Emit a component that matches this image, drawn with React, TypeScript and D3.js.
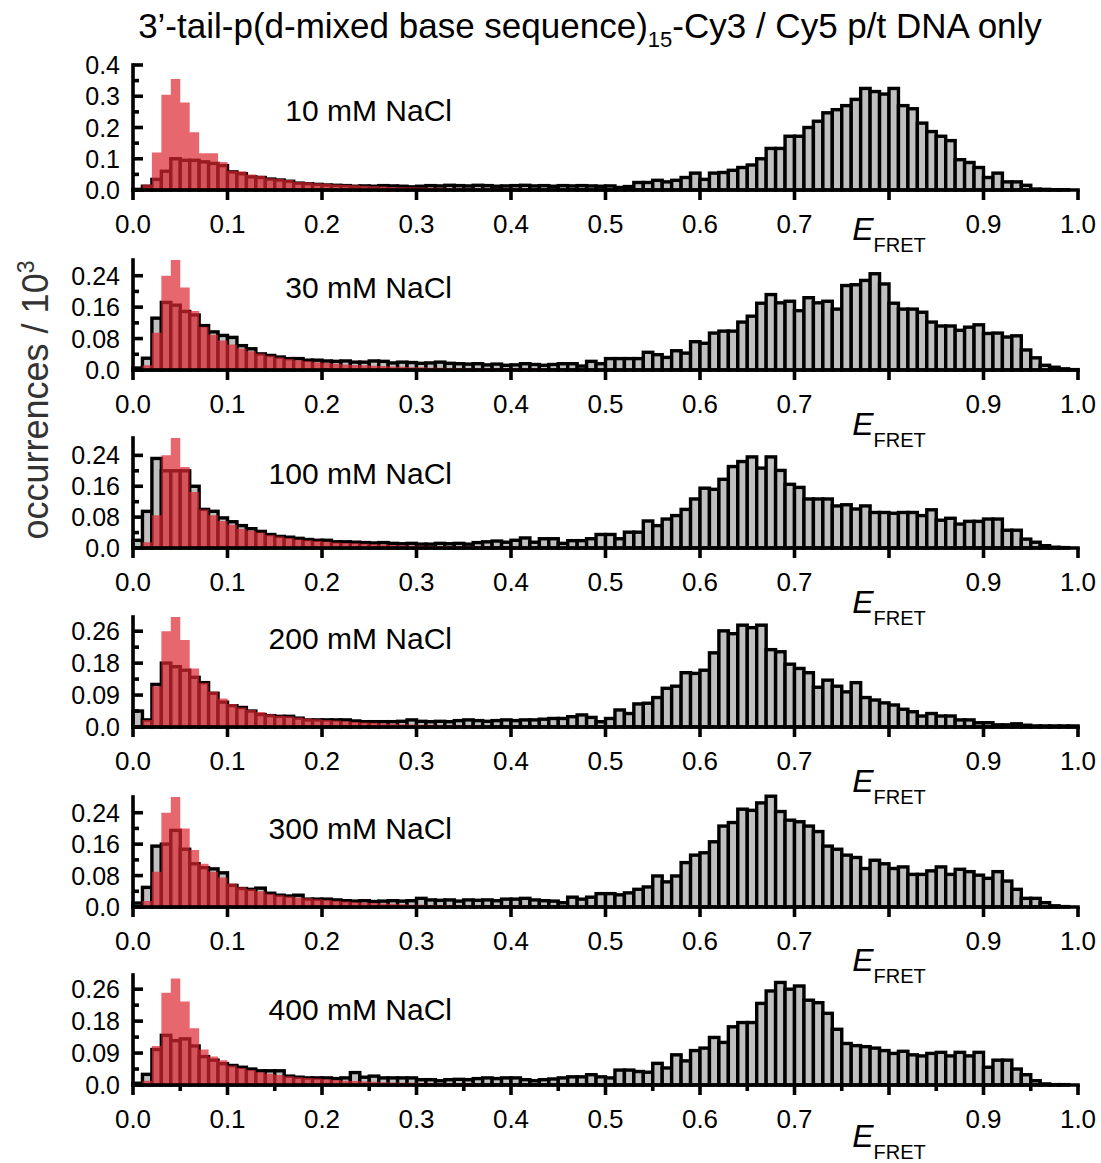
import React from 'react';
import * as d3 from 'd3';

// ---------------- DATA ----------------
const BIN_WIDTH = 0.01;
const TITLE_MAIN = '3\u2019-tail-p(d-mixed base sequence)';
const TITLE_SUB = '15';
const TITLE_END = '-Cy3 / Cy5 p/t DNA only';
const Y_TITLE = 'occurrences / 10';
const Y_TITLE_SUP = '3';
const PANEL_LABELS = ['10 mM NaCl', '30 mM NaCl', '100 mM NaCl', '200 mM NaCl', '300 mM NaCl', '400 mM NaCl'];

const X_TICKS = [0, 0.1, 0.2, 0.3, 0.4, 0.5, 0.6, 0.7, 0.8, 0.9, 1.0];
const X_TICK_LABELS = ['0.0', '0.1', '0.2', '0.3', '0.4', '0.5', '0.6', '0.7', '', '0.9', '1.0'];
const X_MINOR = [0.05, 0.15, 0.25, 0.35, 0.45, 0.55, 0.65, 0.75, 0.85, 0.95];

const Y_TICKS_A = [0, 0.1, 0.2, 0.3, 0.4];
const Y_LABELS_A = ['0.0', '0.1', '0.2', '0.3', '0.4'];
const Y_MINOR_A = [0.05, 0.15, 0.25, 0.35];
const Y_TICKS_B = [0, 0.08, 0.16, 0.24];
const Y_LABELS_B = ['0.0', '0.08', '0.16', '0.24'];
const Y_MINOR_B = [0.04, 0.12, 0.2];
const Y_TICKS_C = [0, 0.09, 0.18, 0.27];
const Y_LABELS_C = ['0.0', '0.09', '0.18', '0.26'];
const Y_MINOR_C = [0.045, 0.135, 0.225];

// occurrences / 10^3, one value per 0.01 bin starting at 0.00
const GRAY_10 = [0.002, 0.012, 0.034, 0.06, 0.1, 0.095, 0.095, 0.09, 0.085, 0.078,
  0.058, 0.052, 0.042, 0.04, 0.035, 0.032, 0.028, 0.022, 0.02, 0.018,
  0.016, 0.015, 0.014, 0.012, 0.013, 0.012, 0.014, 0.013, 0.012, 0.01,
  0.012, 0.014, 0.013, 0.015, 0.014, 0.013, 0.015, 0.014, 0.012, 0.013,
  0.014, 0.015, 0.013, 0.014, 0.012, 0.014, 0.013, 0.014, 0.013, 0.012,
  0.013, 0.008, 0.011, 0.024, 0.024, 0.031, 0.026, 0.031, 0.04, 0.054,
  0.034, 0.054, 0.056, 0.063, 0.072, 0.08, 0.1, 0.133, 0.133, 0.172,
  0.172, 0.2, 0.22, 0.247, 0.257, 0.27, 0.29, 0.325, 0.315, 0.307,
  0.325, 0.27, 0.26, 0.214, 0.187, 0.172, 0.158, 0.097, 0.088, 0.072,
  0.04, 0.054, 0.026, 0.026, 0.015, 0.003, 0.002, 0.001, 0.001, 0];
const RED_10 = [0, 0.018, 0.12, 0.305, 0.355, 0.28, 0.185, 0.118, 0.118, 0.09,
  0.062, 0.06, 0.05, 0.046, 0.038, 0.035, 0.032, 0.026, 0.025, 0.022,
  0.02, 0.018, 0.017, 0.015, 0.014, 0.012, 0.011, 0.01, 0.009, 0.009,
  0.008, 0.007, 0.007, 0.006, 0.006, 0.005, 0.005, 0.005, 0.004, 0.004,
  0.004, 0.004, 0.003, 0.003, 0.003, 0.003, 0.003, 0.003, 0.003, 0.002,
  0.002, 0.002, 0.002, 0.002, 0.002, 0.002, 0.002, 0.001, 0.001, 0.001];

const GRAY_30 = [0.005, 0.03, 0.132, 0.172, 0.165, 0.149, 0.14, 0.113, 0.097, 0.088,
  0.083, 0.062, 0.054, 0.041, 0.037, 0.033, 0.029, 0.029, 0.025, 0.025,
  0.023, 0.022, 0.023, 0.02, 0.02, 0.023, 0.022, 0.018, 0.02, 0.019,
  0.017, 0.018, 0.02, 0.017, 0.016, 0.015, 0.016, 0.013, 0.015, 0.012,
  0.013, 0.016, 0.014, 0.012, 0.014, 0.016, 0.016, 0.01, 0.022, 0.016,
  0.029, 0.029, 0.029, 0.029, 0.045, 0.039, 0.032, 0.049, 0.043, 0.072,
  0.068, 0.094, 0.099, 0.099, 0.122, 0.137, 0.17, 0.192, 0.171, 0.175,
  0.151, 0.184, 0.171, 0.175, 0.155, 0.215, 0.217, 0.228, 0.245, 0.219,
  0.17, 0.155, 0.155, 0.147, 0.122, 0.112, 0.112, 0.101, 0.109, 0.115,
  0.093, 0.094, 0.084, 0.087, 0.051, 0.031, 0.012, 0.007, 0.003, 0.001];
const RED_30 = [0, 0.012, 0.095, 0.24, 0.28, 0.21, 0.15, 0.11, 0.09, 0.075,
  0.065, 0.055, 0.048, 0.042, 0.036, 0.032, 0.028, 0.025, 0.022, 0.02,
  0.018, 0.016, 0.014, 0.013, 0.012, 0.011, 0.01, 0.009, 0.008, 0.007,
  0.007, 0.006, 0.006, 0.005, 0.005, 0.004, 0.004, 0.004, 0.003, 0.003,
  0.003, 0.003, 0.003, 0.003, 0.002, 0.002, 0.002, 0.002, 0.002, 0.002,
  0.002, 0.002, 0.002, 0.001, 0.001, 0.001, 0.001, 0.001, 0.001, 0.001];

const GRAY_100 = [0.02, 0.095, 0.232, 0.2, 0.2, 0.2, 0.16, 0.1, 0.095, 0.078,
  0.068, 0.058, 0.05, 0.043, 0.035, 0.03, 0.028, 0.025, 0.022, 0.02,
  0.02, 0.016, 0.016, 0.015, 0.014, 0.013, 0.014, 0.012, 0.011, 0.012,
  0.01, 0.01, 0.012, 0.011, 0.012, 0.01, 0.014, 0.016, 0.018, 0.015,
  0.02, 0.026, 0.015, 0.024, 0.024, 0.012, 0.019, 0.019, 0.024, 0.035,
  0.035, 0.024, 0.041, 0.041, 0.07, 0.058, 0.075, 0.084, 0.1, 0.127,
  0.155, 0.152, 0.178, 0.211, 0.224, 0.236, 0.207, 0.236, 0.201, 0.165,
  0.157, 0.127, 0.127, 0.127, 0.109, 0.112, 0.101, 0.109, 0.092, 0.092,
  0.09, 0.092, 0.092, 0.084, 0.099, 0.072, 0.077, 0.062, 0.069, 0.069,
  0.075, 0.075, 0.046, 0.046, 0.023, 0.015, 0.006, 0.002, 0.001, 0];
const RED_100 = [0, 0.015, 0.085, 0.24, 0.285, 0.21, 0.145, 0.1, 0.085, 0.07,
  0.06, 0.05, 0.045, 0.04, 0.034, 0.03, 0.026, 0.022, 0.02, 0.018,
  0.016, 0.014, 0.013, 0.012, 0.011, 0.01, 0.009, 0.008, 0.007, 0.006,
  0.006, 0.005, 0.005, 0.005, 0.004, 0.004, 0.004, 0.003, 0.003, 0.003,
  0.003, 0.003, 0.002, 0.002, 0.002, 0.002, 0.002, 0.002, 0.002, 0.002,
  0.002, 0.002, 0.001, 0.001, 0.001, 0.001, 0.001, 0.001, 0.001, 0.001];

const GRAY_200 = [0.045, 0.02, 0.12, 0.18, 0.17, 0.16, 0.14, 0.125, 0.095, 0.07,
  0.06, 0.055, 0.045, 0.035, 0.032, 0.03, 0.03, 0.025, 0.02, 0.02,
  0.02, 0.02, 0.02, 0.017, 0.015, 0.015, 0.015, 0.015, 0.016, 0.02,
  0.016, 0.015, 0.016, 0.015, 0.018, 0.02, 0.018, 0.016, 0.018, 0.02,
  0.018, 0.02, 0.02, 0.022, 0.024, 0.024, 0.029, 0.034, 0.027, 0.015,
  0.024, 0.048, 0.038, 0.065, 0.067, 0.083, 0.109, 0.115, 0.153, 0.151,
  0.16, 0.209, 0.271, 0.263, 0.287, 0.28, 0.287, 0.218, 0.212, 0.177,
  0.165, 0.153, 0.112, 0.132, 0.115, 0.099, 0.125, 0.083, 0.076, 0.068,
  0.062, 0.05, 0.043, 0.031, 0.038, 0.031, 0.031, 0.02, 0.02, 0.012,
  0.012, 0.006, 0.006, 0.009, 0.005, 0.003, 0.003, 0.003, 0.003, 0.003];
const RED_200 = [0, 0.02, 0.115, 0.27, 0.31, 0.245, 0.165, 0.125, 0.1, 0.08,
  0.065, 0.055, 0.048, 0.042, 0.036, 0.032, 0.03, 0.027, 0.024, 0.022,
  0.02, 0.018, 0.016, 0.014, 0.013, 0.012, 0.01, 0.009, 0.008, 0.007,
  0.006, 0.006, 0.005, 0.005, 0.004, 0.004, 0.004, 0.003, 0.003, 0.003,
  0.003, 0.003, 0.002, 0.002, 0.002, 0.002, 0.002, 0.002, 0.002, 0.002,
  0.002, 0.002, 0.001, 0.001, 0.001, 0.001, 0.001, 0.001, 0.001, 0.001];

const GRAY_300 = [0.01, 0.05, 0.155, 0.16, 0.195, 0.147, 0.11, 0.1, 0.097, 0.087,
  0.055, 0.047, 0.045, 0.048, 0.035, 0.03, 0.028, 0.03, 0.02, 0.02,
  0.02, 0.018, 0.016, 0.015, 0.016, 0.014, 0.015, 0.016, 0.015, 0.016,
  0.022, 0.018, 0.017, 0.018, 0.015, 0.018, 0.017, 0.018, 0.016, 0.02,
  0.02, 0.022, 0.018, 0.016, 0.015, 0.011, 0.025, 0.02, 0.025, 0.034,
  0.034, 0.031, 0.036, 0.045, 0.051, 0.079, 0.064, 0.079, 0.113, 0.132,
  0.138, 0.166, 0.206, 0.215, 0.249, 0.246, 0.265, 0.282, 0.243, 0.221,
  0.217, 0.206, 0.192, 0.155, 0.147, 0.132, 0.126, 0.098, 0.119, 0.11,
  0.098, 0.102, 0.083, 0.083, 0.092, 0.102, 0.083, 0.096, 0.09, 0.081,
  0.073, 0.09, 0.066, 0.045, 0.022, 0.022, 0.011, 0.003, 0.001, 0];
const RED_300 = [0, 0.015, 0.09, 0.24, 0.28, 0.2, 0.145, 0.11, 0.09, 0.075,
  0.06, 0.05, 0.045, 0.04, 0.034, 0.03, 0.027, 0.024, 0.022, 0.02,
  0.018, 0.016, 0.014, 0.012, 0.011, 0.01, 0.009, 0.008, 0.007, 0.006,
  0.006, 0.005, 0.005, 0.005, 0.004, 0.004, 0.004, 0.003, 0.003, 0.003,
  0.003, 0.003, 0.002, 0.002, 0.002, 0.002, 0.002, 0.002, 0.002, 0.002,
  0.002, 0.002, 0.001, 0.001, 0.001, 0.001, 0.001, 0.001, 0.001, 0.001];

const GRAY_400 = [0.005, 0.03, 0.1, 0.14, 0.125, 0.13, 0.11, 0.08, 0.07, 0.06,
  0.055, 0.05, 0.045, 0.04, 0.04, 0.04, 0.025, 0.022, 0.02, 0.02,
  0.02, 0.018, 0.02, 0.035, 0.022, 0.025, 0.02, 0.02, 0.02, 0.02,
  0.015, 0.015, 0.012, 0.015, 0.016, 0.015, 0.018, 0.02, 0.018, 0.02,
  0.02, 0.015, 0.012, 0.015, 0.017, 0.02, 0.023, 0.023, 0.029, 0.023,
  0.02, 0.042, 0.042, 0.038, 0.036, 0.061, 0.048, 0.085, 0.068, 0.097,
  0.104, 0.134, 0.12, 0.164, 0.176, 0.176, 0.23, 0.265, 0.289, 0.27,
  0.279, 0.239, 0.232, 0.202, 0.157, 0.117, 0.111, 0.108, 0.104, 0.097,
  0.089, 0.095, 0.085, 0.082, 0.089, 0.092, 0.082, 0.092, 0.082, 0.092,
  0.05, 0.07, 0.07, 0.045, 0.029, 0.012, 0.003, 0.001, 0.001, 0];
const RED_400 = [0, 0.012, 0.11, 0.26, 0.3, 0.235, 0.16, 0.1, 0.08, 0.07,
  0.055, 0.048, 0.042, 0.036, 0.032, 0.028, 0.025, 0.022, 0.02, 0.018,
  0.016, 0.014, 0.012, 0.011, 0.01, 0.009, 0.008, 0.007, 0.006, 0.006,
  0.005, 0.005, 0.005, 0.004, 0.004, 0.004, 0.003, 0.003, 0.003, 0.003,
  0.003, 0.002, 0.002, 0.002, 0.002, 0.002, 0.002, 0.002, 0.002, 0.002,
  0.002, 0.001, 0.001, 0.001, 0.001, 0.001, 0.001, 0.001, 0.001, 0.001];

// ---------------- LAYOUT / STYLE ----------------
const W = 1101;
const H = 1163;
const FONT = '"Liberation Sans", Arial, Helvetica, sans-serif';
const GRAY_FILL = '#c0c0c0';
const RED_FILL = 'rgb(221,39,49)';
const RED_OPACITY = 0.7;
const BAR_STROKE = 3.4;
const AXIS_STROKE = 3.6;

const PANELS = [
  { label: PANEL_LABELS[0], gray: GRAY_10, red: RED_10, yMax: 0.4, ticks: Y_TICKS_A, tickLabels: Y_LABELS_A, minor: Y_MINOR_A },
  { label: PANEL_LABELS[1], gray: GRAY_30, red: RED_30, yMax: 0.28, ticks: Y_TICKS_B, tickLabels: Y_LABELS_B, minor: Y_MINOR_B },
  { label: PANEL_LABELS[2], gray: GRAY_100, red: RED_100, yMax: 0.285, ticks: Y_TICKS_B, tickLabels: Y_LABELS_B, minor: Y_MINOR_B },
  { label: PANEL_LABELS[3], gray: GRAY_200, red: RED_200, yMax: 0.31, ticks: Y_TICKS_C, tickLabels: Y_LABELS_C, minor: Y_MINOR_C },
  { label: PANEL_LABELS[4], gray: GRAY_300, red: RED_300, yMax: 0.28, ticks: Y_TICKS_B, tickLabels: Y_LABELS_B, minor: Y_MINOR_B },
  { label: PANEL_LABELS[5], gray: GRAY_400, red: RED_400, yMax: 0.31, ticks: Y_TICKS_C, tickLabels: Y_LABELS_C, minor: Y_MINOR_C },
];

const LAYOUT = [
  { base: 190, h: 125, labelY: 121, eDy: 50 },
  { base: 370, h: 110, labelY: 298, eDy: 65 },
  { base: 548, h: 110, labelY: 484, eDy: 65 },
  { base: 727, h: 110, labelY: 649, eDy: 65 },
  { base: 907, h: 110, labelY: 839, eDy: 64 },
  { base: 1085, h: 110, labelY: 1020, eDy: 62 },
];

const X_LEFT = 133;
const X_RIGHT = 1078;
const LABEL_RIGHT = 452;

const x = d3.scaleLinear().domain([0, 1]).range([X_LEFT, X_RIGHT]);

function Panel({ panel, layout, last }: any) {
  const y = d3.scaleLinear().domain([0, panel.yMax]).range([layout.base, layout.base - layout.h]);
  const bw = x(BIN_WIDTH) - x(0);
  const redPts = panel.red.map((v: number, i: number) => [i * BIN_WIDTH, v]);
  redPts.push([panel.red.length * BIN_WIDTH, 0]);
  const area = d3
    .area<number[]>()
    .x((d) => x(d[0]))
    .y0(y(0))
    .y1((d) => y(d[1]))
    .curve(d3.curveStepAfter);
  const majorLen = 10;
  const minorLen = 6;
  return (
    <g>
      {panel.gray.map((v: number, i: number) => (
        <rect
          key={i}
          x={x(i * BIN_WIDTH)}
          y={y(v)}
          width={bw}
          height={Math.max(0, y(0) - y(v))}
          fill={GRAY_FILL}
          stroke="#000"
          strokeWidth={BAR_STROKE}
        />
      ))}
      <path d={area(redPts) || ''} fill={RED_FILL} fillOpacity={RED_OPACITY} />
      {/* x axis */}
      <line x1={x(0)} x2={x(1)} y1={y(0)} y2={y(0)} stroke="#000" strokeWidth={AXIS_STROKE} strokeLinecap="square" />
      {X_TICKS.map((t, i) => (
        <g key={'xt' + i}>
          <line x1={x(t)} x2={x(t)} y1={y(0)} y2={y(0) + majorLen} stroke="#000" strokeWidth={AXIS_STROKE} />
          {X_TICK_LABELS[i] && (
            <text x={x(t)} y={y(0) + 43} textAnchor="middle" fontSize={26} fontFamily={FONT} fill="#000">
              {X_TICK_LABELS[i]}
            </text>
          )}
        </g>
      ))}
      {last &&
        X_MINOR.map((t, i) => (
          <line key={'xm' + i} x1={x(t)} x2={x(t)} y1={y(0)} y2={y(0) + minorLen} stroke="#000" strokeWidth={AXIS_STROKE} />
        ))}
      {/* y axis */}
      <line x1={x(0)} x2={x(0)} y1={y(0)} y2={y(panel.yMax)} stroke="#000" strokeWidth={AXIS_STROKE} strokeLinecap="square" />
      {panel.ticks.map((t: number, i: number) => (
        <g key={'yt' + i}>
          <line x1={x(0)} x2={x(0) + majorLen} y1={y(t)} y2={y(t)} stroke="#000" strokeWidth={AXIS_STROKE} />
          <text x={x(0) - 13} y={y(t)} dy="0.36em" textAnchor="end" fontSize={25} fontFamily={FONT} fill="#000">
            {panel.tickLabels[i]}
          </text>
        </g>
      ))}
      {panel.minor.map((t: number, i: number) => (
        <line key={'ym' + i} x1={x(0)} x2={x(0) + minorLen} y1={y(t)} y2={y(t)} stroke="#000" strokeWidth={AXIS_STROKE} />
      ))}
      {/* panel label */}
      <text x={LABEL_RIGHT} y={layout.labelY} textAnchor="end" fontSize={30} fontFamily={FONT} fill="#000">
        {panel.label}
      </text>
      {/* E_FRET */}
      <text x={x(0.8)} y={y(0) + layout.eDy} textAnchor="middle" fontFamily={FONT} fill="#000">
        <tspan fontSize={32} fontStyle="italic">E</tspan>
        <tspan fontSize={20} dy={12}>FRET</tspan>
      </text>
    </g>
  );
}

export default function App() {
  return (
    <svg
      width={W}
      height={H}
      style={{ position: 'absolute', left: 0, top: 0, background: '#fff' }}
    >
      <rect x={0} y={0} width={W} height={H} fill="#fff" />
      <text x={590} y={38} textAnchor="middle" fontSize={35} fontFamily={FONT} fill="#000">
        {TITLE_MAIN}
        <tspan fontSize={22} dy={9}>{TITLE_SUB}</tspan>
        <tspan dy={-9}>{TITLE_END}</tspan>
      </text>
      <text
        transform="translate(48,400) rotate(-90)"
        textAnchor="middle"
        fontSize={36}
        fontFamily={FONT}
        fill="#333"
      >
        {Y_TITLE}
        <tspan fontSize={23} dy={-14}>{Y_TITLE_SUP}</tspan>
      </text>
      {PANELS.map((p, i) => (
        <Panel key={i} panel={p} layout={LAYOUT[i]} last={i === PANELS.length - 1} />
      ))}
    </svg>
  );
}
